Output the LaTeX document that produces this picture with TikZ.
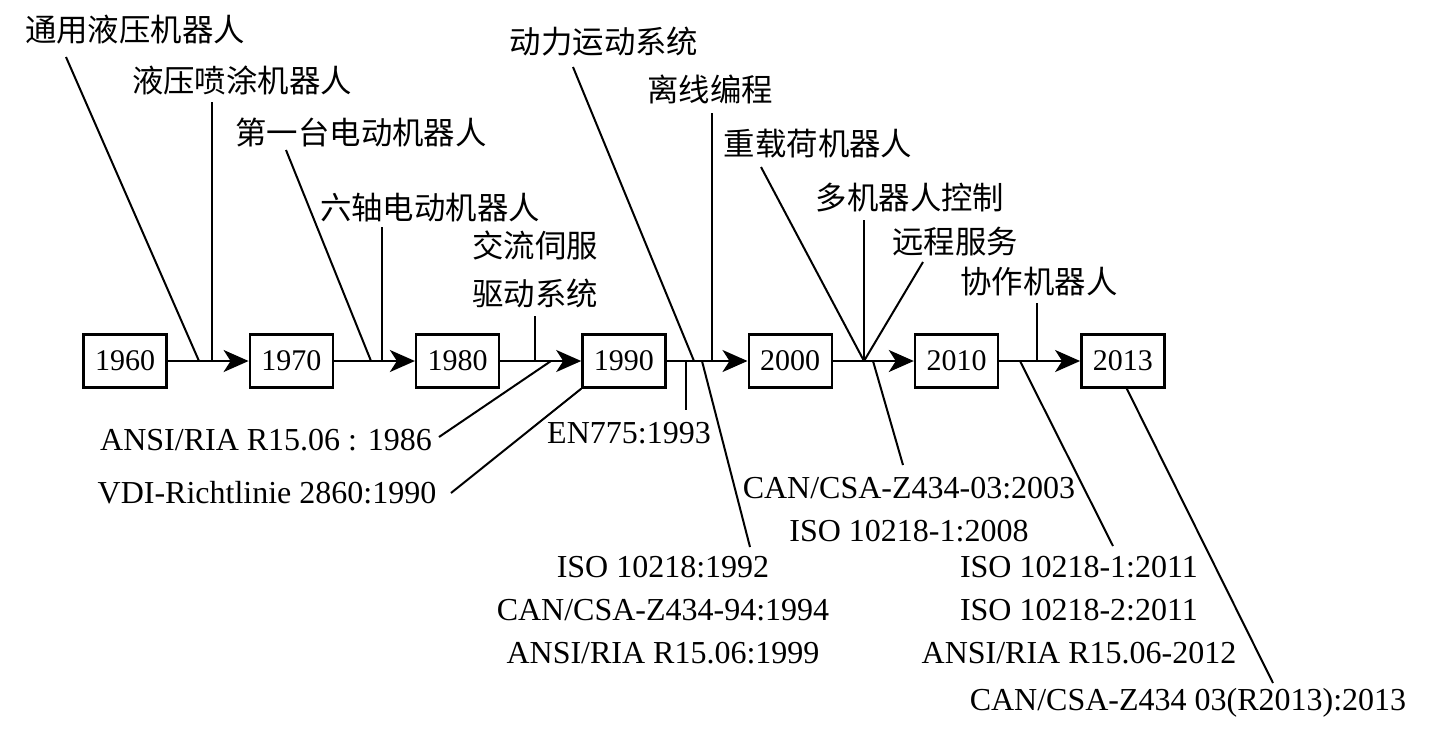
\documentclass[tikz,border=0pt]{standalone}
\usepackage{fontspec}
\setmainfont{Liberation Serif}
\newfontfamily\cjk{Noto Sans CJK SC}
\usetikzlibrary{calc,arrows.meta}
\tikzset{
  yearbox/.style={draw=black, line width=1.2pt, minimum width=41.5pt, minimum height=26.5pt, inner sep=0pt, font=\fontsize{15}{18}\selectfont},
  flow/.style={draw=black, line width=1.1pt, -{Stealth[length=12.5pt, width=11pt, inset=3.5pt]}},
  lead/.style={draw=black, line width=1pt},
  evt/.style={font=\cjk\fontsize{15.7}{24}\selectfont, inner sep=0pt, align=center},
  std/.style={font=\fontsize{16}{21.5}\selectfont, inner sep=0pt, align=center},
}

\begin{document}
\begin{tikzpicture}[x=0.5pt, y=-0.5pt]
  \useasboundingbox (0,0) rectangle (1432,736);
  % year boxes and the time line
  \foreach \i/\yr in {0/1960,1/1970,2/1980,3/1990,4/2000,5/2010,6/2013}
    \node[yearbox] (y\yr) at (125+166.3*\i,361) {\yr};
  \foreach \a/\b in {1960/1970,1970/1980,1980/1990,1990/2000,2000/2010,2010/2013}
    \draw[flow] (y\a) -- (y\b);
  % points on the line
  \foreach \n/\x in {j1/199,j2/212,j3/371,j4/382,j5/535,j6/551,j7/694,j8/712,
                     k1/686,k2/702,j9/864,k3/873,k4/1020,j10/1037}
    \coordinate (\n) at (\x,361);

  % events above
  \node[evt] (e1) at (135,30) {通用液压机器人};
  \node[evt] (e2) at (242,80) {液压喷涂机器人};
  \node[evt] (e3) at (361,132) {第一台电动机器人};
  \node[evt] (e4) at (430,208) {六轴电动机器人};
  \node[evt] (e5) at (535,269) {交流伺服\\驱动系统};
  \node[evt] (e6) at (604,42) {动力运动系统};
  \node[evt] (e7) at (710,89) {离线编程};
  \node[evt] (e8) at (818,144) {重载荷机器人};
  \node[evt] (e9) at (910,198) {多机器人控制};
  \node[evt] (e10) at (955,242) {远程服务};
  \node[evt] (e11) at (1039,282) {协作机器人};
  \draw[lead] (e1.center) ++(-69,27) -- (j1);
  \draw[lead] (e2.center) ++(-30,22) -- (j2);
  \draw[lead] (e3.center) ++(-75,18) -- (j3);
  \draw[lead] (e4.center) ++(-48,19) -- (j4);
  \draw[lead] (e5.center) ++(0,47) -- (j5);
  \draw[lead] (e6.center) ++(-31,25) -- (j7);
  \draw[lead] (e7.center) ++(2,24) -- (j8);
  \draw[lead] (e8.center) ++(-57,23) -- (j9);
  \draw[lead] (e9.center) ++(-46,22) -- (j9);
  \draw[lead] (e10.center) ++(-32,20) -- (j9);
  \draw[lead] (e11.center) ++(-2,21) -- (j10);

  % standards below
  \node[std] (s1) at (266,440) {ANSI/RIA R15.06 : 1986};
  \node[std] (s2) at (267,493) {VDI-Richtlinie 2860:1990};
  \node[std] (s3) at (629,433) {EN775:1993};
  \node[std] (s4) at (663,610) {ISO 10218:1992\\CAN/CSA-Z434-94:1994\\ANSI/RIA R15.06:1999};
  \node[std] (s5) at (909,510) {CAN/CSA-Z434-03:2003\\ISO 10218-1:2008};
  \node[std] (s6) at (1079,610) {ISO 10218-1:2011\\ISO 10218-2:2011\\ANSI/RIA R15.06-2012};
  \node[std] (s7) at (1188,703) {CAN/CSA-Z434 03(R2013):2013};
  \draw[lead] (s1.center) ++(173,-3) -- (j6);
  \draw[lead] (s2.center) ++(184,0) -- (y1990.south west);
  \draw[lead] (k1) -- ++(0,49);
  \draw[lead] (k2) -- ($(s4.center)+(87,-63)$);
  \draw[lead] (k3) -- ($(s5.center)+(-6,-45)$);
  \draw[lead] (k4) -- ($(s6.center)+(34,-64)$);
  \draw[lead] ([xshift=2pt]y2013.south) -- ($(s7.center)+(85,-20)$);
\end{tikzpicture}
\end{document}
